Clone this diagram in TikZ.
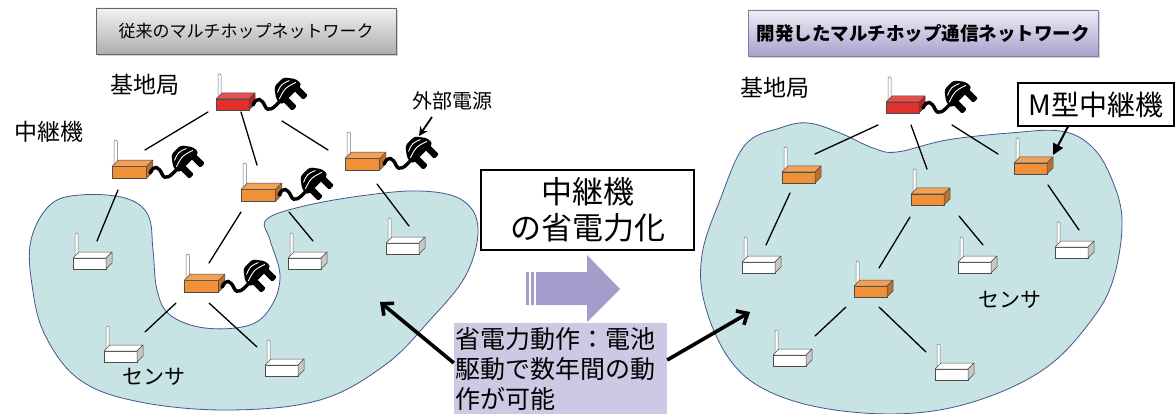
\documentclass[tikz,border=0pt]{standalone}
\usepackage{fontspec}
\newfontfamily\jp{Noto Sans CJK JP}
\usetikzlibrary{arrows.meta,shadows}

\definecolor{blobfill}{HTML}{C8E3E3}
\definecolor{blobline}{HTML}{45558F}
\definecolor{relayc}{HTML}{F0913A}
\definecolor{bsc}{HTML}{E2302C}
\definecolor{lav}{HTML}{A39DCB}
\definecolor{lablav}{HTML}{CEC8E4}

\tikzset{
  % box-shaped radio unit with antenna; origin = bottom-left of the front face
  dev/.pic={
    \draw[draw=black!55, fill=white, line width=0.5pt, rounded corners=1pt] (2,-8) rectangle (5,-36);
    \draw[draw=black!70, line width=0.5pt, fill=#1] (0,0) rectangle (33,-11);
    \draw[draw=black!70, line width=0.5pt, fill=#1!85!white, line join=round] (0,-11) -- (6,-17) -- (39,-17) -- (33,-11) -- cycle;
    \draw[draw=black!70, line width=0.5pt, fill=#1!78!black, line join=round] (33,0) -- (39,-6) -- (39,-17) -- (33,-11) -- cycle;
  },
  % power cable with mains plug; origin = where the cable leaves the unit
  plug/.pic={
    \draw[line width=3.4pt, line cap=round] (0,0) .. controls (4,-9) and (9,-6) .. (12,1) .. controls (15,8) and (21,3) .. (27,-4);
    \begin{scope}[shift={(36,-13)}, rotate=-45, scale=1.3]
      \fill[rounded corners=3pt] (-11,-5) -- (-3,-11) -- (3,-11) -- (3,11) -- (-3,11) -- (-11,5) -- cycle;
      \draw[white, line width=0.9pt] (-6,-6.5) .. controls (-8.5,0) .. (-6,6.5);
      \draw[white, line width=0.9pt] (-1.5,-9) .. controls (-4.5,0) .. (-1.5,9);
      \fill[rounded corners=1.2pt] (2,-8.5) rectangle (12,-3.5);
      \fill[rounded corners=1.2pt] (2,3.5) rectangle (12,8.5);
    \end{scope}
  },
  link/.style={line width=1.3pt, line cap=round},
  blob/.style={fill=blobfill, draw=blobline, line width=0.8pt},
  lbl/.style={font=\jp\fontsize{23}{26}\selectfont, inner sep=0pt},
  bigptr/.style={line width=3.6pt, -{Straight Barb[length=9pt, width=16pt]}},
  smallptr/.style={line width=1.8pt, -{Stealth[length=9pt, width=9pt]}},
}

\begin{document}
\begin{tikzpicture}[x=1pt, y=-1pt]
\useasboundingbox (0,0) rectangle (1175,414);
\fill[white] (0,0) rectangle (1175,414);

% ---------- left: conventional network ----------
\node[draw=black!60, line width=0.8pt, top color=black!5, bottom color=black!32,
      drop shadow={shadow xshift=2pt, shadow yshift=-2pt, opacity=0.35},
      minimum width=300pt, minimum height=46pt, inner sep=0pt,
      font=\jp\fontsize{17}{20}\selectfont] (ltitle) at (246,31) {従来のマルチホップネットワーク};

\path[blob] plot[smooth cycle, tension=0.62] coordinates {
  (31,240) (50,205) (80,195) (125,198) (148,215) (153,250) (157,290) (170,315)
  (205,328) (250,325) (272,305) (280,275) (270,240) (266,220) (300,207)
  (360,196) (420,191) (462,200) (478,228) (466,275) (430,320) (385,365)
  (320,400) (230,410) (140,402) (80,380) (45,335) (32,285)};

\node[lbl] (lbs) at (145,85) {基地局};
\node[lbl] (lrelay) at (49,132) {中継機};
\node[lbl, font=\jp\fontsize{20}{24}\selectfont] (lext) at (452,101) {外部電源};
\node[lbl, font=\jp\fontsize{21}{24}\selectfont] (lsensor) at (154,377) {センサ};

% links
\path (208,112) coordinate (la1) (145,150) coordinate (la2)
      (241,112) coordinate (lb1) (257,165) coordinate (lb2)
      (282,121) coordinate (lc1) (328,150) coordinate (lc2)
      (118,190) coordinate (ld1) (97,241) coordinate (ld2)
      (241,212) coordinate (le1) (209,263) coordinate (le2)
      (289,212) coordinate (lf1) (313,241) coordinate (lf2)
      (377,184) coordinate (lg1) (409,226) coordinate (lg2)
      (176,303) coordinate (lh1) (145,332) coordinate (lh2)
      (209,303) coordinate (li1) (257,347) coordinate (li2);
\foreach \a/\b in {la1/la2, lb1/lb2, lc1/lc2, ld1/ld2, le1/le2, lf1/lf2, lg1/lg2, lh1/lh2, li1/li2}
  \draw[link] (\a) -- (\b);

% units
\pic (lbsu) at (216,110) {dev=bsc};
\pic at (253,105) {plug};
\pic[scale=1.05] (lr1) at (112,178) {dev=relayc};
\pic at (150,173) {plug};
\pic[scale=1.05] (lr2) at (241,201) {dev=relayc};
\pic at (279,195) {plug};
\pic[scale=1.05] (lr3) at (345,170) {dev=relayc};
\pic at (384,164) {plug};
\pic[scale=1.05] (lr4) at (184,292) {dev=relayc};
\pic at (222,287) {plug};
\pic (ls1) at (73,269) {dev=white};
\pic (ls2) at (288,269) {dev=white};
\pic (ls3) at (386,254) {dev=white};
\pic (ls4) at (104,362) {dev=white};
\pic (ls5) at (265,376) {dev=white};

\coordinate (lextA) at (432,117);
\coordinate (lextB) at (419,136);
\draw[smallptr] (lextA) -- (lextB);

% ---------- right: developed network ----------
\node[draw=lav!80!black, line width=0.8pt, top color=lav!18, bottom color=lav!95,
      drop shadow={shadow xshift=2pt, shadow yshift=-2pt, opacity=0.35},
      minimum width=350pt, minimum height=46pt, inner sep=0pt,
      font=\jp\bfseries\fontsize{18.5}{22}\selectfont] (rtitle) at (923,33) {開発したマルチホップ通信ネットワーク};

\path[blob] plot[smooth cycle, tension=0.62] coordinates {
  (720,200) (745,145) (780,128) (808,123) (840,133) (873,148) (897,152)
  (947,140) (1010,133) (1060,131) (1090,145) (1110,175) (1122,220)
  (1113,280) (1090,322) (1047,367) (985,398) (915,413) (835,410)
  (770,392) (730,360) (705,305) (702,255)};

\node[lbl] (rbs) at (775,88) {基地局};
\node[lbl, font=\jp\fontsize{21}{24}\selectfont] (rsensor) at (1010,300) {センサ};
\node[draw=black, line width=1.2pt, fill=white, minimum width=156pt, minimum height=43pt, inner sep=0pt,
      font=\jp\fontsize{28}{30}\selectfont] (mbox) at (1096,104.5) {M型中継機};

\path (878,125) coordinate (ra1) (815,154) coordinate (ra2)
      (911,125) coordinate (rb1) (927,169) coordinate (rb2)
      (952,125) coordinate (rc1) (998,154) coordinate (rc2)
      (790,193) coordinate (rd1) (766,245) coordinate (rd2)
      (910,217) coordinate (re1) (879,268) coordinate (re2)
      (959,216) coordinate (rf1) (983,245) coordinate (rf2)
      (1048,185) coordinate (rg1) (1079,230) coordinate (rg2)
      (846,307) coordinate (rh1) (815,336) coordinate (rh2)
      (879,307) coordinate (ri1) (926,352) coordinate (ri2);
\foreach \a/\b in {ra1/ra2, rb1/rb2, rc1/rc2, rd1/rd2, re1/re2, rf1/rf2, rg1/rg2, rh1/rh2, ri1/ri2}
  \draw[link] (\a) -- (\b);

\pic (rbsu) at (886,113) {dev=bsc};
\pic at (923,108) {plug};
\pic (rr1) at (782,183) {dev=relayc};
\pic (rr2) at (911,205) {dev=relayc};
\pic (rr3) at (1014,174) {dev=relayc};
\pic (rr4) at (854,297) {dev=relayc};
\pic (rs1) at (742,273) {dev=white};
\pic (rs2) at (958,273) {dev=white};
\pic (rs3) at (1055,258) {dev=white};
\pic (rs4) at (773,366) {dev=white};
\pic (rs5) at (935,380) {dev=white};

\coordinate (mtip) at (1053,155);
\draw[line width=2pt, -{Triangle[length=11pt, width=11pt]}] (mbox.south -| 1068,0) -- (mtip);

% ---------- centre ----------
\node[draw=black, line width=1.2pt, fill=white, minimum width=213pt, minimum height=80pt,
      inner sep=0pt, align=center, font=\jp\fontsize{31}{36}\selectfont] (cbox) at (587.5,210) {中継機\\の省電力化};

\fill[lav] (526,272) rectangle (529,305);
\fill[lav] (531,272) rectangle (534,305);
\fill[lav] (536,272) -- (587,272) -- (587,255) -- (620,289) -- (587,322) -- (587,305) -- (536,305) -- cycle;

\node[fill=lablav, minimum width=213pt, minimum height=92pt, inner sep=0pt] (cnote) at (560.5,369) {};
\node[anchor=north west, inner sep=0pt, align=left, font=\jp\fontsize{25}{30}\selectfont] (cnotetext) at (455,327)
  {省電力動作：電池\\駆動で数年間の動\\作が可能};

\coordinate (lptr) at (380,302);
\coordinate (rptr) at (750,312);
\draw[bigptr] (cnote.west |- 0,363) -- (lptr);
\draw[bigptr] (cnote.east |- 0,360) -- (rptr);

\end{tikzpicture}
\end{document}
